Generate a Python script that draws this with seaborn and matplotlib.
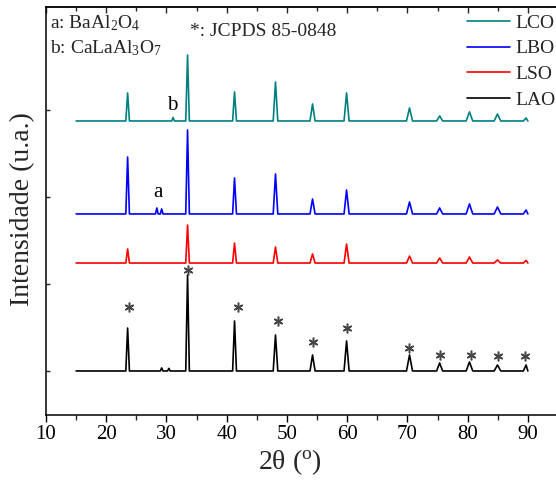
import numpy as np
import pandas as pd
import matplotlib
matplotlib.use("Agg")
import matplotlib.pyplot as plt
import seaborn as sns

# ---------------- data ----------------
two_theta_range = [15.0, 90.0]
peak_pos = [23.55, 33.5, 41.3, 48.1, 54.25, 59.9, 70.35, 75.35, 80.3, 84.95, 89.7]
peak_halfwidth = [0.3, 0.3, 0.32, 0.38, 0.42, 0.42, 0.5, 0.5, 0.55, 0.55, 0.45]

series_names = ["LCO", "LBO", "LSO", "LAO"]
series_colors = ["#008080", "#0000ff", "#ff0000", "#000000"]
series_offset = [2874, 1805, 1241, 0]

lco_heights = [322, 759, 334, 448, 196, 322, 150, 58, 104, 80, 35]
lbo_heights = [655, 966, 414, 460, 172, 276, 138, 69, 115, 80, 46]
lso_heights = [161, 437, 230, 184, 104, 218, 80, 58, 69, 35, 30]
lao_heights = [494, 1104, 575, 414, 184, 345, 184, 92, 104, 69, 69]

# small secondary-phase reflections: (position, height)
lco_minor = [(31.1, 40)]
lbo_minor = [(28.4, 69), (29.2, 58)]
lso_minor = []
lao_minor = [(29.2, 35), (30.4, 30)]

star_x = [23.76, 33.55, 41.84, 48.47, 54.28, 59.92, 70.2, 75.34, 80.5, 85.1, 89.6]
star_y = [735, 1160, 735, 575, 333, 494, 264, 184, 184, 172, 172]

phase_labels = ["a", "b"]
phase_label_x = [28.6, 30.9]
phase_label_y = [2057, 3056]

x_ticks = [10, 20, 30, 40, 50, 60, 70, 80, 90]
y_ticks = [0, 1000, 2000, 3000]


def pattern_vertices(heights, minor, offset):
    peaks = [(p, h, w) for p, h, w in zip(peak_pos, heights, peak_halfwidth)]
    peaks += [(p, h, 0.22) for p, h in minor]
    peaks.sort()
    xs = [two_theta_range[0]]
    ys = [offset]
    for p, h, w in peaks:
        xs += [p - w, p, min(p + w, two_theta_range[1])]
        ys += [offset, offset + h, offset]
    if xs[-1] < two_theta_range[1]:
        xs.append(two_theta_range[1])
        ys.append(offset)
    return xs, ys


all_heights = [lco_heights, lbo_heights, lso_heights, lao_heights]
all_minor = [lco_minor, lbo_minor, lso_minor, lao_minor]

frames = []
for name, h, m, off in zip(series_names, all_heights, all_minor, series_offset):
    xs, ys = pattern_vertices(h, m, off)
    frames.append(pd.DataFrame({"2theta": xs, "I": ys, "sample": name}))
df = pd.concat(frames, ignore_index=True)

# ---------------- style ----------------
sns.set_theme(style="ticks")
plt.rcParams["font.family"] = ["Liberation Serif", "DejaVu Serif"]
plt.rcParams["mathtext.default"] = "regular"
plt.rcParams["axes.linewidth"] = 1.1

W, H = 556, 483
fig = plt.figure(figsize=(W / 100, H / 100), dpi=100)
ax_left, ax_right, ax_top, ax_bottom = 46, 558, 7, 415
ax = fig.add_axes([ax_left / W, 1 - ax_bottom / H, (ax_right - ax_left) / W, (ax_bottom - ax_top) / H])

palette = dict(zip(series_names, series_colors))
# draw bottom first
for name in series_names[::-1]:
    sub = df[df["sample"] == name]
    sns.lineplot(data=sub, x="2theta", y="I", color=palette[name], lw=1.2,
                 estimator=None, sort=False, ax=ax, label=name)

ax.plot(star_x, star_y, linestyle="none", marker=(6, 2, 0), markersize=7,
        markeredgewidth=1.1, color="#454545")

for t, x, y in zip(phase_labels, phase_label_x, phase_label_y):
    ax.text(x, y, t, fontsize=15, ha="center", va="center", color="black")

ax.set_xlim(10, 95)
ax.set_ylim(-506, 4184)
ax.set_xticks(x_ticks)
ax.set_xticks(np.arange(15, 95, 10), minor=True)
ax.set_yticks(y_ticks)
ax.set_yticklabels([])
ax.tick_params(axis="x", which="major", direction="out", length=5, width=1, labelsize=15, pad=2, colors="black")
ax.tick_params(axis="x", which="minor", direction="out", length=3.5, width=1)
ax.tick_params(axis="y", which="major", direction="in", length=3, width=1)
for s in ["left", "bottom", "top"]:
    ax.spines[s].set_visible(True)
    ax.spines[s].set_color("black")
ax.spines["right"].set_visible(False)

sec = ax.secondary_xaxis("top")
sec.set_xticks(x_ticks)
sec.set_xticks(np.arange(15, 95, 10), minor=True)
sec.tick_params(which="major", direction="in", length=4, width=1, labeltop=False)
sec.tick_params(which="minor", direction="in", length=3, width=1)

ax.set_xlabel(r"2θ ($^{o}$)", fontsize=20)
ax.set_ylabel("Intensidade (u.a.)", fontsize=20)
ax.xaxis.set_label_coords((290 - ax_left) / (ax_right - ax_left), -(462 - ax_bottom) / (ax_bottom - ax_top), transform=ax.transAxes)
ax.xaxis.label.set_va("center")
ax.yaxis.set_label_coords(-(46 - 23) / (ax_right - ax_left), (ax_bottom - 209) / (ax_bottom - ax_top))
ax.yaxis.label.set_va("center")

# legend (LCO, LBO, LSO, LAO)
handles, labels = ax.get_legend_handles_labels()
order = [labels.index(n) for n in series_names]
ax.legend([handles[i] for i in order], [labels[i] for i in order],
          loc="upper left", bbox_to_anchor=(467 / W, 1 - 14 / H), bbox_transform=fig.transFigure,
          frameon=False, fontsize=14, handlelength=2.2, handletextpad=0.3,
          labelspacing=0.42, borderpad=0, borderaxespad=0)

fig.text(50 / W, 1 - 28 / H, "a: BaAl$_2$O$_4$", fontsize=14, ha="left", va="baseline")
fig.text(50 / W, 1 - 53 / H, "b: CaLaAl$_3$O$_7$", fontsize=14, ha="left", va="baseline")
fig.text(190 / W, 1 - 36 / H, "*: JCPDS 85-0848", fontsize=14, ha="left", va="baseline")

fig.savefig("out.png", dpi=100)
